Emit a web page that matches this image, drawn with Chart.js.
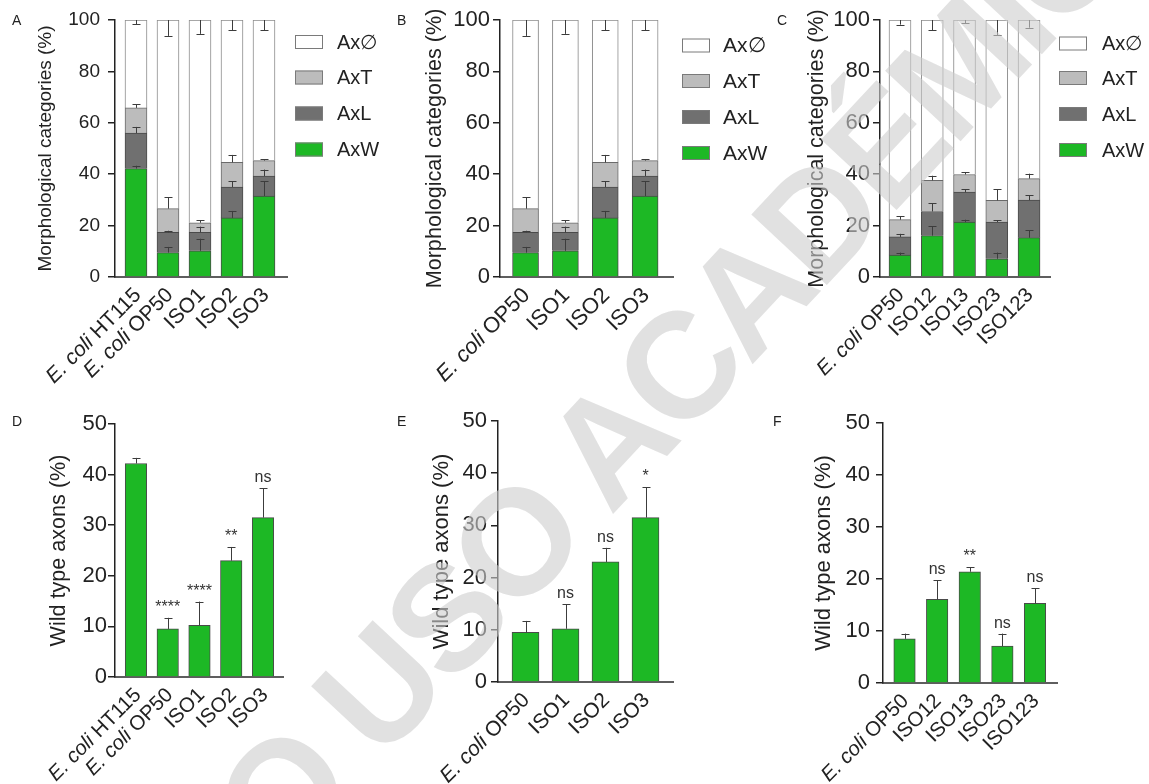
<!DOCTYPE html>
<html>
<head>
<meta charset="utf-8">
<script src="https://cdn.jsdelivr.net/npm/chart.js@4.4.1/dist/chart.umd.min.js"></script>
<style>
  html, body { margin: 0; padding: 0; background: #fff; }
  body { width: 1149px; height: 784px; position: relative; overflow: hidden;
         font-family: 'Liberation Sans', Arial, sans-serif; }
  canvas { position: absolute; }
  .tag { position: absolute; font-size: 14px; line-height: 1; color: #222; }
  .wm { position: absolute; left: 606px; top: 446px; white-space: nowrap; line-height: 1;
        transform: translate(-50%, -50%) rotate(-47deg); letter-spacing: -6px;
        font: bold 150px 'Liberation Sans', Arial, sans-serif;
        color: rgba(205, 205, 205, 0.6); pointer-events: none; }
</style>
</head>
<body>
<canvas id="cA" style="left:0;top:0" width="390" height="395"></canvas>
<canvas id="cB" style="left:390px;top:0" width="380" height="395"></canvas>
<canvas id="cC" style="left:770px;top:0" width="379" height="395"></canvas>
<canvas id="cD" style="left:0;top:400px" width="390" height="384"></canvas>
<canvas id="cE" style="left:390px;top:400px" width="380" height="384"></canvas>
<canvas id="cF" style="left:770px;top:400px" width="379" height="384"></canvas>

<div class="tag" style="left:12px;top:13px">A</div>
<div class="tag" style="left:397px;top:13px">B</div>
<div class="tag" style="left:777px;top:13px">C</div>
<div class="tag" style="left:12px;top:414px">D</div>
<div class="tag" style="left:397px;top:414px">E</div>
<div class="tag" style="left:773px;top:414px">F</div>

<div class="wm">SÓLO USO ACADÉMICO</div>

<script>
// ---- categories ----
const catsSingle = ['E. coli HT115', 'E. coli OP50', 'ISO1', 'ISO2', 'ISO3'];
const catsMixed = ['E. coli OP50', 'ISO12', 'ISO13', 'ISO23', 'ISO123'];

// ---- axon morphology, single isolates (% of axons) ----
const axW1 = [42.2, 9.5, 10.2, 23.0, 31.5];
const axW1Err = [1.1, 2.2, 4.7, 2.7, 5.8];
const axL1 = [13.8, 7.9, 7.2, 12.0, 7.8];
const axL1Err = [2.4, 0.6, 2.2, 2.2, 2.5];
const axT1 = [9.8, 9.2, 3.7, 9.6, 6.0];
const axT1Err = [1.5, 4.5, 0.9, 2.9, 0.6];
const axN1 = [34.2, 73.4, 78.9, 55.4, 54.7];
const axN1Err = [1.6, 6.2, 5.4, 4.0, 4.0];

// ---- axon morphology, isolate combinations (% of axons) ----
const axW2 = [8.5, 16.1, 21.4, 7.1, 15.3];
const axW2Err = [1.0, 3.7, 0.9, 2.4, 2.9];
const axL2 = [7.1, 9.4, 11.6, 14.3, 14.6];
const axL2Err = [1.2, 3.2, 1.2, 0.7, 2.0];
const axT2 = [6.7, 12.1, 6.9, 8.4, 8.4];
const axT2Err = [1.3, 1.8, 0.9, 4.4, 1.9];
const axN2 = [77.7, 62.4, 60.1, 70.2, 61.7];
const axN2Err = [1.8, 3.9, 1.3, 6.0, 3.0];

// ---- significance marks ----
const sigD = ['', '****', '****', '**', 'ns'];
const sigE = ['', 'ns', 'ns', '*'];
const sigF = ['', 'ns', '**', 'ns', 'ns'];

// ---- axis ticks ----
const morphTicks = { min: 0, max: 100, step: 20 };
const wildTicks = { min: 0, max: 50, step: 10 };

const FONT = "'Liberation Sans', Arial, sans-serif";
const GREEN = '#1db825';
const INK = '#222';

Chart.defaults.font.family = FONT;
Chart.defaults.color = INK;

// error bars: up from the top of a segment, or down for the top segment
const errorBars = {
  id: 'errorBars',
  afterDatasetsDraw(chart) {
    const { ctx } = chart;
    const ys = chart.scales.y;
    ctx.save();
    ctx.strokeStyle = '#3c3c3c';
    ctx.lineWidth = 1;
    chart.data.datasets.forEach((ds, k) => {
      if (!ds.err) return;
      const meta = chart.getDatasetMeta(k);
      meta.data.forEach((el, j) => {
        let top = 0;
        for (let m = 0; m <= k; m++) top += chart.data.datasets[m].data[j].y;
        const e = ds.err[j];
        const yEnd = ys.getPixelForValue(ds.errDown ? top - e : top + e);
        const x = Math.round(el.x) + 0.5;
        ctx.beginPath();
        ctx.moveTo(x, el.y);
        ctx.lineTo(x, yEnd);
        ctx.moveTo(x - 4, Math.round(yEnd) + 0.5);
        ctx.lineTo(x + 4, Math.round(yEnd) + 0.5);
        ctx.stroke();
      });
    });
    ctx.restore();
  }
};

// significance marks above the error bars
const sigMarks = {
  id: 'sigMarks',
  afterDatasetsDraw(chart, args, opts) {
    if (!opts || !opts.labels) return;
    const { ctx } = chart;
    const ds = chart.data.datasets[0];
    const meta = chart.getDatasetMeta(0);
    ctx.save();
    ctx.fillStyle = '#333';
    ctx.font = `${opts.size}px ${FONT}`;
    ctx.textAlign = 'center';
    ctx.textBaseline = 'alphabetic';
    meta.data.forEach((el, j) => {
      const t = opts.labels[j];
      if (!t) return;
      const y = chart.scales.y.getPixelForValue(ds.data[j].y + ds.err[j]);
      ctx.fillText(t, el.x, y - opts.gap);
    });
    ctx.restore();
  }
};

// rotated category names, species part in italics
const catLabels = {
  id: 'catLabels',
  afterDraw(chart, args, opts) {
    if (!opts || !opts.labels) return;
    const { ctx, chartArea } = chart;
    const xs = chart.scales.x;
    ctx.save();
    ctx.fillStyle = INK;
    ctx.textAlign = 'right';
    ctx.textBaseline = 'middle';
    const up = `${opts.size}px ${FONT}`;
    const it = `italic ${opts.size}px ${FONT}`;
    opts.labels.forEach((lab, i) => {
      ctx.save();
      ctx.translate(xs.getPixelForValue(i) + opts.dx, chartArea.bottom + opts.dy);
      ctx.rotate(-Math.PI / 4);
      if (lab.startsWith('E. coli')) {
        const rest = lab.slice('E. coli'.length);
        ctx.font = up;
        ctx.fillText(rest, 0, 0);
        const w = ctx.measureText(rest).width;
        ctx.font = it;
        ctx.fillText('E. coli', -w, 0);
      } else {
        ctx.font = up;
        ctx.fillText(lab, 0, 0);
      }
      ctx.restore();
    });
    ctx.restore();
  }
};

// box legend to the right of the stacked bars
const boxLegend = {
  id: 'boxLegend',
  afterDraw(chart, args, opts) {
    if (!opts || !opts.rows) return;
    const { ctx } = chart;
    const sets = chart.data.datasets.slice().reverse();
    ctx.save();
    ctx.font = `${opts.size}px ${FONT}`;
    ctx.textBaseline = 'middle';
    ctx.textAlign = 'left';
    sets.forEach((ds, r) => {
      const cy = opts.rows[r];
      ctx.fillStyle = ds.backgroundColor;
      ctx.fillRect(opts.x, cy - 7, 28, 14);
      ctx.strokeStyle = '#7a7a7a';
      ctx.lineWidth = 1;
      ctx.strokeRect(opts.x + 0.5, cy - 6.5, 27, 13);
      ctx.fillStyle = INK;
      ctx.fillText(ds.label, opts.textX, cy + 1);
    });
    ctx.restore();
  }
};

function points(vals) {
  return vals.map((v, i) => ({ x: i, y: v }));
}

function axes(g, yt, yTitle) {
  return {
    x: {
      type: 'linear', stacked: true, min: g.xMin, max: g.xMax, offset: false,
      grid: { display: false, offset: false },
      ticks: { display: false },
      border: { display: true, color: '#5e5e5e', width: 2 },
      afterFit(s) { s.height = g.xH; }
    },
    y: {
      stacked: true, min: yt.min, max: yt.max,
      ticks: { stepSize: yt.step, padding: g.tickPad, color: INK, font: { size: g.tickSize } },
      grid: { display: true, drawOnChartArea: false, drawTicks: true, tickLength: 7,
              color: INK, lineWidth: 1.5 },
      border: { display: true, color: INK, width: 1.5 },
      title: { display: true, text: yTitle, color: INK, font: { size: g.titleSize },
               padding: { top: g.titlePad, bottom: 0 } },
      afterFit(s) { s.width = g.left; }
    }
  };
}

function baseOptions(g) {
  return {
    responsive: false, animation: false, devicePixelRatio: 1, events: [],
    layout: { padding: { top: g.top, right: g.padRight, left: 0, bottom: 0 } },
  };
}

function stackedPanel(id, cats, series, g) {
  const [w, we, l, le, t, te, n, ne] = series;
  const common = { barThickness: g.bar, borderWidth: 1, borderSkipped: 'start' };
  new Chart(document.getElementById(id), {
    type: 'bar',
    data: {
      datasets: [
        { label: 'AxW', data: points(w), err: we, backgroundColor: GREEN, borderColor: '#4a4a4a', ...common },
        { label: 'AxL', data: points(l), err: le, backgroundColor: '#707070', borderColor: '#4a4a4a', ...common },
        { label: 'AxT', data: points(t), err: te, backgroundColor: '#bcbcbc', borderColor: '#6a6a6a', ...common },
        { label: 'Ax\u2205', data: points(n), err: ne, errDown: true, backgroundColor: '#ffffff', borderColor: '#8a8a8a', ...common }
      ]
    },
    options: {
      ...baseOptions(g),
      scales: axes(g, morphTicks, 'Morphological categories (%)'),
      plugins: {
        legend: { display: false }, tooltip: { enabled: false },
        catLabels: { labels: cats, size: g.catSize, dx: g.dx, dy: g.dy },
        boxLegend: { x: g.legX, textX: g.legTextX, rows: g.legRows, size: g.legSize }
      }
    },
    plugins: [errorBars, catLabels, boxLegend]
  });
}

function wildPanel(id, cats, vals, errs, sig, g) {
  new Chart(document.getElementById(id), {
    type: 'bar',
    data: {
      datasets: [
        { label: 'Wild type axons', data: points(vals), err: errs, backgroundColor: GREEN,
          borderColor: '#4a4a4a', borderWidth: 1, borderSkipped: 'start', barThickness: g.bar }
      ]
    },
    options: {
      ...baseOptions(g),
      scales: axes(g, wildTicks, 'Wild type axons (%)'),
      plugins: {
        legend: { display: false }, tooltip: { enabled: false },
        catLabels: { labels: cats, size: g.catSize, dx: g.dx, dy: g.dy },
        sigMarks: { labels: sig, size: 16, gap: 6 }
      }
    },
    plugins: [errorBars, sigMarks, catLabels]
  });
}

// ---- panels ----
stackedPanel('cA', catsSingle,
  [axW1, axW1Err, axL1, axL1Err, axT1, axT1Err, axN1, axN1Err],
  { left: 115, top: 20, padRight: 103, xH: 118, xMin: -0.656, xMax: 4.719, bar: 22,
    tickSize: 19, tickPad: 8, titleSize: 19, titlePad: 34, catSize: 21, dx: 2, dy: 15,
    legX: 295, legTextX: 337, legRows: [42, 77.5, 113.5, 149.5], legSize: 20 });

stackedPanel('cB', catsSingle.slice(1),
  [axW1.slice(1), axW1Err.slice(1), axL1.slice(1), axL1Err.slice(1),
   axT1.slice(1), axT1Err.slice(1), axN1.slice(1), axN1Err.slice(1)],
  { left: 110, top: 20, padRight: 97, xH: 118, xMin: -0.641, xMax: 3.70, bar: 26,
    tickSize: 22, tickPad: 3, titleSize: 21.6, titlePad: 32, catSize: 22, dx: 1, dy: 15,
    legX: 292, legTextX: 333, legRows: [45.5, 81, 117, 153], legSize: 21 });

stackedPanel('cC', catsMixed,
  [axW2, axW2Err, axL2, axL2Err, axT2, axT2Err, axN2, axN2Err],
  { left: 110, top: 20, padRight: 99, xH: 118, xMin: -0.62, xMax: 4.65, bar: 22,
    tickSize: 22, tickPad: 3, titleSize: 21.5, titlePad: 34, catSize: 20.5, dx: 1, dy: 15,
    legX: 289, legTextX: 332, legRows: [43.5, 78, 114, 150], legSize: 20 });

wildPanel('cD', catsSingle, axW1, axW1Err, sigD,
  { left: 115, top: 24, padRight: 107, xH: 107, xMin: -0.66, xMax: 4.63, bar: 21.5,
    tickSize: 22, tickPad: 1, titleSize: 21.6, titlePad: 46, catSize: 20.5, dx: 2, dy: 15 });

wildPanel('cE', catsSingle.slice(1), axW1.slice(1), axW1Err.slice(1), sigE,
  { left: 108, top: 21, padRight: 97, xH: 102, xMin: -0.6875, xMax: 3.6875, bar: 27,
    tickSize: 22, tickPad: 4, titleSize: 22, titlePad: 39, catSize: 21, dx: 1, dy: 15 });

wildPanel('cF', catsMixed, axW2, axW2Err, sigF,
  { left: 113, top: 23, padRight: 92, xH: 101, xMin: -0.66, xMax: 4.675, bar: 21.5,
    tickSize: 22, tickPad: 6, titleSize: 22, titlePad: 41, catSize: 20.5, dx: 1, dy: 15 });
</script>
</body>
</html>
